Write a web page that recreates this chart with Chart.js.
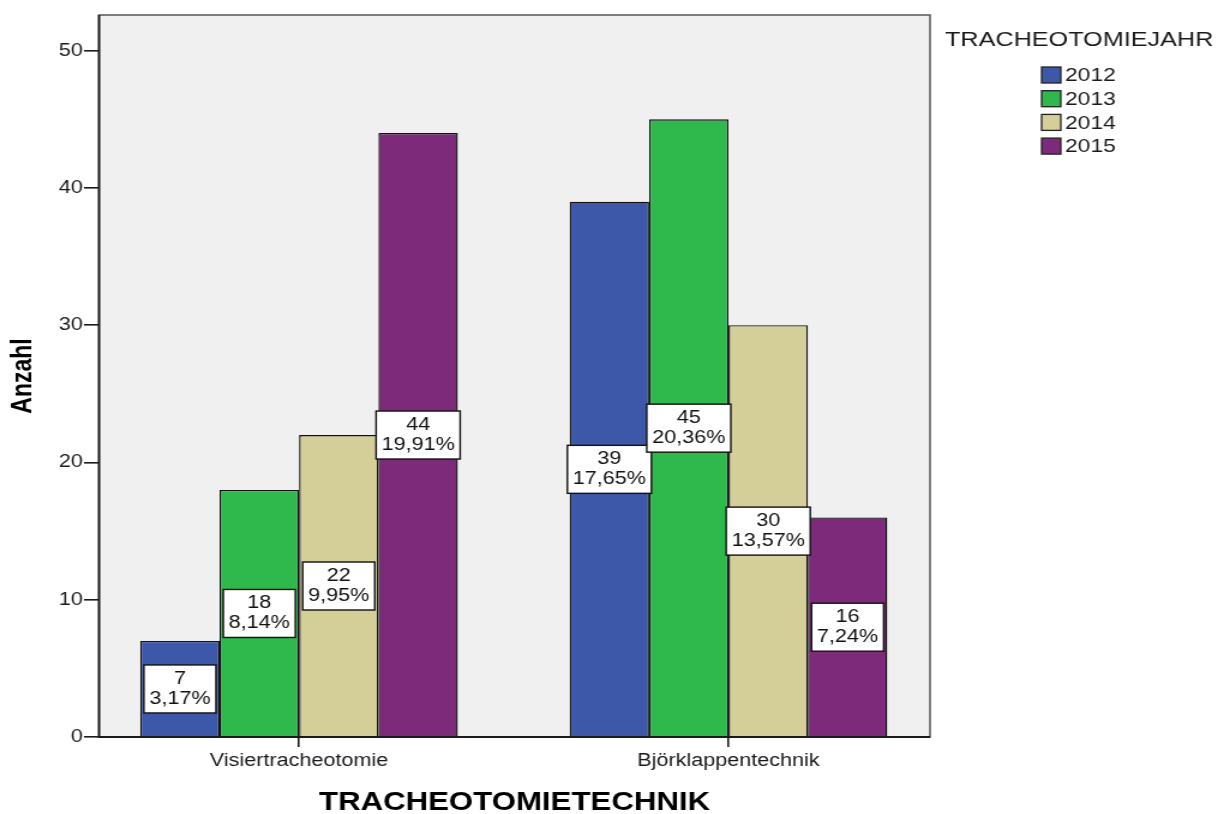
<!DOCTYPE html>
<html>
<head>
<meta charset="utf-8">
<title>Tracheotomietechnik nach Jahr</title>
<script src="https://cdn.jsdelivr.net/npm/chart.js@4.4.0/dist/chart.umd.min.js"></script>
<style>
  html, body { margin: 0; padding: 0; background: #fff; overflow: hidden; }
  /* the whole chart is drawn narrow and widened, like the exported SPSS figure */
  #wrap { width: 1023px; height: 814px; transform: scaleX(1.2); transform-origin: 0 0; }
</style>
</head>
<body>
<div id="wrap"><canvas id="chart" width="1023" height="814"></canvas></div>
<script>
// --- data ---
const categories = ['Visiertracheotomie', 'Björklappentechnik'];
const years = ['2012', '2013', '2014', '2015'];
const counts2012 = [7, 39];
const counts2013 = [18, 45];
const counts2014 = [22, 30];
const counts2015 = [44, 16];
const yearColors = ['#3d57a9', '#2fb84b', '#d4cf98', '#7e2a7b'];
const yTickStep = 10;
const yMax = 52.6;

const FONT = '"Liberation Sans", Arial, Helvetica, sans-serif';
const allCounts = [counts2012, counts2013, counts2014, counts2015];
const total = allCounts.flat().reduce((a, b) => a + b, 0);

const pct = v => (v / total * 100).toFixed(2).replace('.', ',') + '%';

// grey plot background + frame
const plotFrame = {
    id: 'plotFrame',
    beforeDatasetsDraw(chart) {
        const { ctx, chartArea: a } = chart;
        ctx.save();
        ctx.fillStyle = '#f0f0f0';
        ctx.fillRect(a.left, a.top, a.right - a.left, a.bottom - a.top);
        ctx.restore();
    },
    afterDatasetsDraw(chart) {
        const { ctx, chartArea: a } = chart;
        ctx.save();
        ctx.strokeStyle = '#555';
        ctx.lineWidth = 1.5;
        ctx.strokeRect(a.left, a.top, a.right - a.left, a.bottom - a.top);
        ctx.strokeStyle = '#1a1a1a';
        ctx.lineWidth = 1.8;
        ctx.beginPath();
        ctx.moveTo(a.left, a.top);
        ctx.lineTo(a.left, a.bottom);
        ctx.lineTo(a.right, a.bottom);
        ctx.stroke();
        ctx.restore();
    }
};

// white boxes with count and share, centred on each bar
const valueBoxes = {
    id: 'valueBoxes',
    afterDatasetsDraw(chart) {
        const ctx = chart.ctx;
        const yScale = chart.scales.y;
        ctx.save();
        ctx.font = `18px ${FONT}`;
        ctx.textAlign = 'center';
        ctx.textBaseline = 'middle';
        chart.data.datasets.forEach((ds, di) => {
            chart.getDatasetMeta(di).data.forEach((bar, i) => {
                const v = ds.data[i].y;
                const lines = [String(v), pct(v)];
                const w = Math.max(...lines.map(t => ctx.measureText(t).width)) + 9;
                const h = 48;
                const cx = bar.x;
                const cy = yScale.getPixelForValue(v / 2);
                ctx.fillStyle = '#fff';
                ctx.fillRect(cx - w / 2, cy - h / 2, w, h);
                ctx.strokeStyle = '#111';
                ctx.lineWidth = 1.4;
                ctx.strokeRect(cx - w / 2, cy - h / 2, w, h);
                ctx.fillStyle = '#111';
                ctx.fillText(lines[0], cx, cy - 10);
                ctx.fillText(lines[1], cx, cy + 10);
            });
        });
        ctx.restore();
    }
};

// legend on the right: title plus coloured squares
const yearLegend = {
    id: 'yearLegend',
    afterDraw(chart) {
        const ctx = chart.ctx;
        const left = chart.chartArea.right + 12.5;
        ctx.save();
        ctx.textBaseline = 'middle';
        ctx.textAlign = 'left';
        ctx.fillStyle = '#1a1a1a';
        ctx.font = `21px ${FONT}`;
        ctx.fillText('TRACHEOTOMIEJAHR', left, 40);
        ctx.font = `19px ${FONT}`;
        chart.data.datasets.forEach((ds, i) => {
            const y = 75 + i * 23.7;
            ctx.fillStyle = ds.backgroundColor;
            ctx.fillRect(left + 80.5, y - 8, 16, 16);
            ctx.strokeStyle = '#222';
            ctx.lineWidth = 1.3;
            ctx.strokeRect(left + 80.5, y - 8, 16, 16);
            ctx.fillStyle = '#1a1a1a';
            ctx.fillText(ds.label, left + 100, y + 1);
        });
        ctx.restore();
    }
};

const datasets = years.map((year, k) => ({
    label: year,
    data: allCounts[k].map((v, i) => ({ x: i, y: v })),
    backgroundColor: yearColors[k],
    borderColor: '#111',
    borderWidth: 1.4,
    categoryPercentage: 0.7395,
    barPercentage: 1
}));

new Chart(document.getElementById('chart'), {
    type: 'bar',
    data: { datasets },
    options: {
        responsive: false,
        animation: false,
        layout: { padding: { top: 15, right: 248, bottom: 0, left: 0 } },
        plugins: {
            legend: { display: false },
            tooltip: { enabled: false }
        },
        scales: {
            x: {
                type: 'linear',
                min: -0.4657,
                max: 1.4692,
                offset: false,
                afterBuildTicks: s => { s.ticks = categories.map((_, i) => ({ value: i })); },
                afterFit: s => { s.height = 77; },
                ticks: {
                    callback: v => categories[v],
                    font: { family: FONT, size: 18 },
                    color: '#1a1a1a',
                    padding: 3,
                    maxRotation: 0,
                    autoSkip: false
                },
                grid: { drawOnChartArea: false, offset: false, tickLength: 10, color: '#1a1a1a', lineWidth: 1.6 },
                border: { display: false },
                title: {
                    display: true,
                    text: 'TRACHEOTOMIETECHNIK',
                    color: '#000',
                    font: { family: FONT, size: 26, weight: 'bold', lineHeight: 0.85 },
                    padding: 0
                }
            },
            y: {
                min: 0,
                max: yMax,
                afterFit: s => { s.width = 82.5; },
                ticks: {
                    stepSize: yTickStep,
                    includeBounds: false,
                    font: { family: FONT, size: 18 },
                    color: '#1a1a1a',
                    padding: 1
                },
                grid: { drawOnChartArea: false, tickLength: 12.5, color: '#1a1a1a', lineWidth: 1.6 },
                border: { display: false },
                title: {
                    display: true,
                    text: 'Anzahl',
                    color: '#000',
                    font: { family: FONT, size: 23, weight: 'bold', lineHeight: 1.2 },
                    padding: { top: 6, bottom: 0 }
                }
            }
        }
    },
    plugins: [plotFrame, valueBoxes, yearLegend]
});
</script>
</body>
</html>
